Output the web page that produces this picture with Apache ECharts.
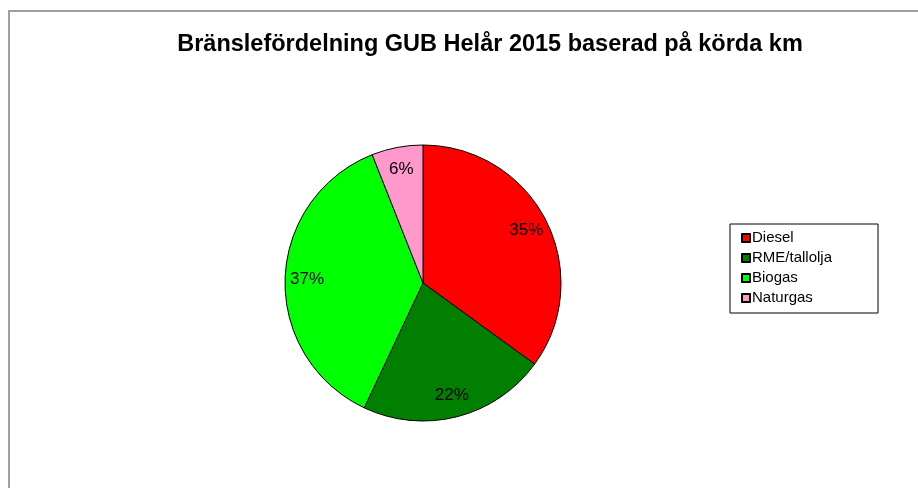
<!DOCTYPE html>
<html>
<head>
<meta charset="utf-8">
<script src="https://cdn.jsdelivr.net/npm/echarts@6/dist/echarts.min.js"></script>
<style>
html, body { margin: 0; padding: 0; background: #fff; }
#chart { width: 918px; height: 488px; }
</style>
</head>
<body>
<div id="chart"></div>
<script>
// Bränslefördelning per bränsletyp (andel av körda km, %)
var fuelNames = ['Diesel', 'RME/tallolja', 'Biogas', 'Naturgas'];
var fuelShares = [35, 22, 37, 6];
var fuelColors = ['#ff0000', '#007f00', '#00ff00', '#ff99cc'];

var pieData = fuelNames.map(function (n, i) {
    return { name: n, value: fuelShares[i], itemStyle: { color: fuelColors[i] } };
});
var labelData = fuelNames.map(function (n, i) {
    return { name: n, value: fuelShares[i] };
});

var chart = echarts.init(document.getElementById('chart'));
chart.setOption({
    backgroundColor: '#fff',
    animation: false,
    title: {
        text: 'Bränslefördelning GUB Helår 2015 baserad på körda km',
        left: 485,
        textAlign: 'center',
        top: 28,
        textStyle: { fontFamily: 'Liberation Sans', fontSize: 23.5, fontWeight: 'bold', color: '#000' }
    },
    legend: {
        orient: 'vertical',
        left: 730,
        top: 224,
        data: fuelNames,
        icon: 'rect',
        itemWidth: 8,
        itemHeight: 8,
        itemGap: 4,
        padding: [6, 46, 7, 11],
        borderColor: '#000',
        borderWidth: 1,
        backgroundColor: '#fff',
        textStyle: { fontFamily: 'Liberation Sans', fontSize: 15, color: '#000', lineHeight: 16, padding: [0, 0, 0, -3] }
    },
    graphic: [{
        type: 'rect',
        silent: true,
        shape: { x: 9, y: 11, width: 1000, height: 600 },
        style: { fill: 'none', stroke: '#a0a0a0', lineWidth: 2 }
    }],
    series: [{
        name: 'Bränsle',
        type: 'pie',
        center: [423, 283],
        radius: [0, 138],
        startAngle: 90,
        clockwise: true,
        label: { show: false },
        labelLine: { show: false },
        itemStyle: { borderColor: '#000', borderWidth: 1 },
        emphasis: { disabled: true },
        data: pieData
    }, {
        name: 'Etiketter',
        type: 'pie',
        center: [423, 283],
        radius: [88, 138],
        startAngle: 90,
        clockwise: true,
        silent: true,
        itemStyle: { color: 'rgba(0,0,0,0)', borderWidth: 0 },
        label: {
            show: true,
            position: 'inside',
            formatter: '{d}%',
            fontFamily: 'Liberation Sans',
            fontSize: 17,
            color: '#000'
        },
        labelLine: { show: false },
        emphasis: { disabled: true },
        data: labelData
    }]
});
</script>
</body>
</html>
